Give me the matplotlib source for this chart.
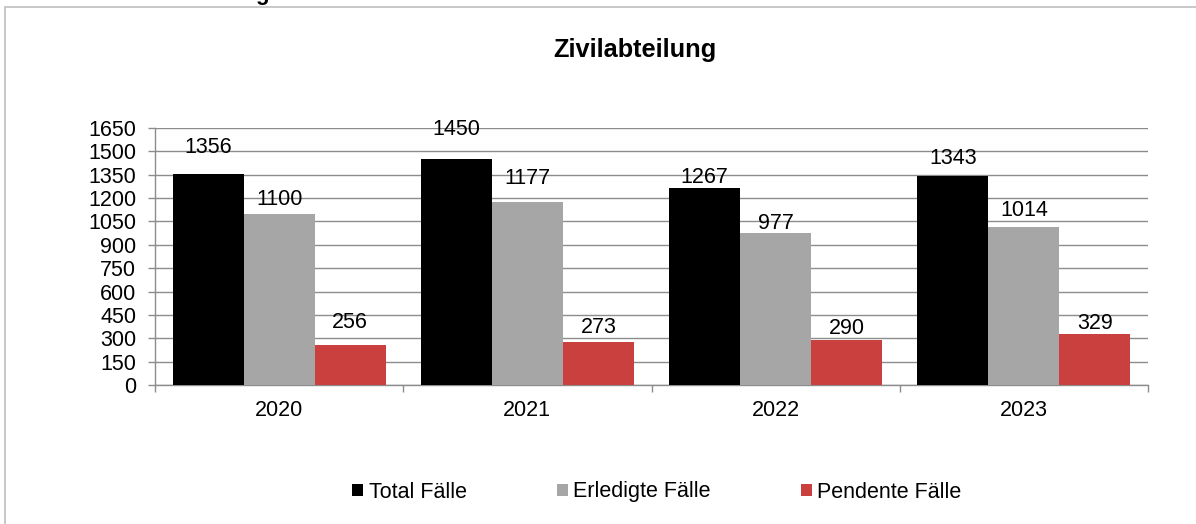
import matplotlib
matplotlib.use("Agg")
import matplotlib.pyplot as plt
from matplotlib.patches import Patch, Rectangle
import numpy as np

# ---- data ----
years = ["2020", "2021", "2022", "2023"]
series_names = ["Total Fälle", "Erledigte Fälle", "Pendente Fälle"]
total = [1356, 1450, 1267, 1343]
erledigt = [1100, 1177, 977, 1014]
pendent = [256, 273, 290, 329]
y_ticks = list(range(0, 1651, 150))

# ---- style ----
colors = ["#000000", "#A6A6A6", "#C9403F"]
# gap (px) between label baseline and bar top, per series / per year
label_gap_px = [[21, 24, 5, 12], [9, 18, 4, 11], [17, 9, 6, 5]]

W, H = 1196, 524
plt.rcParams['font.family'] = ['Liberation Sans', 'DejaVu Sans']
fig = plt.figure(figsize=(W / 100, H / 100), dpi=100)

# outer frame (partially cropped)
fig.patches.append(Rectangle((5 / W, -0.1), 1.2, 1 - 7 / H + 0.1, transform=fig.transFigure,
                             fill=False, edgecolor="#BFBFBF", linewidth=1.2))
# cropped heading fragment above
fig.text(262 / W, 1.0, "g", ha="center", va="baseline", fontsize=16, fontweight="bold")

ax = fig.add_axes([155 / W, 1 - 385 / H, (1148 - 155) / W, (385 - 128) / H])

values = [total, erledigt, pendent]
x = np.arange(len(years))
bw = 0.286
fs = 15.5
for i, (vals, c, name) in enumerate(zip(values, colors, series_names)):
    xs = x + (i - 1) * bw
    ax.bar(xs, vals, width=bw, color=c, label=name, zorder=3, linewidth=0)
    for j, (xx, v) in enumerate(zip(xs, vals)):
        ax.annotate(str(v), (xx, v), xytext=(0, label_gap_px[i][j] * 0.72),
                    textcoords="offset points", ha="center", va="baseline",
                    fontsize=fs, zorder=4)

ax.set_xlim(-0.5, len(years) - 0.5)
ax.set_ylim(0, 1650)
ax.set_yticks(y_ticks)
ax.set_yticklabels([str(t) for t in y_ticks])
ax.yaxis.grid(True, color="#8C8C8C", linewidth=1.0, zorder=0)
ax.set_axisbelow(True)

ax.set_xticks(np.arange(-0.5, len(years), 1.0))
ax.set_xticklabels([])
ax.set_xticks(x, minor=True)
ax.set_xticklabels(years, minor=True)
ax.tick_params(axis="x", which="major", length=5, color="#8C8C8C", width=1.0)
ax.tick_params(axis="x", which="minor", length=0, pad=10.5, labelsize=fs)
ax.tick_params(axis="y", length=5, color="#8C8C8C", width=1.0, pad=8.5, labelsize=fs)

for s in ["top", "right"]:
    ax.spines[s].set_visible(False)
for s in ["left", "bottom"]:
    ax.spines[s].set_color("#8C8C8C")
    ax.spines[s].set_linewidth(1.0)

fig.text(635 / W, 1 - 50 / H, "Zivilabteilung", ha="center", va="center",
         fontsize=18.3, fontweight="bold")

handles = [Patch(facecolor=c, edgecolor="none") for c in colors]
fig.legend(handles, series_names, loc="center", bbox_to_anchor=(657 / W, 1 - 492 / H),
           ncol=3, frameon=False, fontsize=fs, handlelength=0.5, handleheight=0.5,
           handletextpad=0.25, columnspacing=4.2)

fig.savefig("out.png", dpi=100)
